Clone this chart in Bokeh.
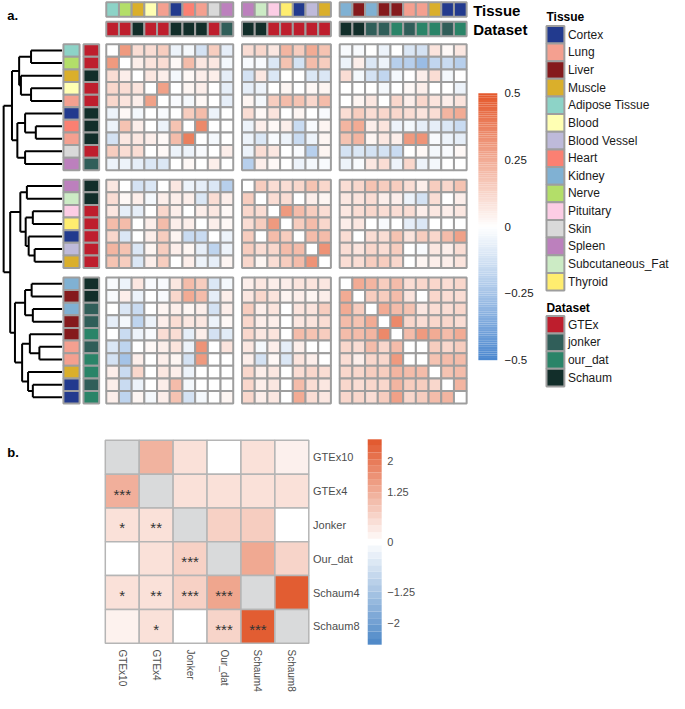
import numpy as np
from bokeh.plotting import figure
from bokeh.models import Range1d, ColumnDataSource
from bokeh.embed import file_html
from bokeh.resources import INLINE
from bokeh.core.properties import value

FONT = "Liberation Sans"

# ---------------- data ----------------
tissue_names = ["Cortex", "Lung", "Liver", "Muscle", "Adipose Tissue", "Blood", "Blood Vessel",
                "Heart", "Kidney", "Nerve", "Pituitary", "Skin", "Spleen", "Subcutaneous_Fat", "Thyroid"]
tissue_colors = ["#223A8E", "#F4A090", "#851A1C", "#DAAF2B", "#8DD3C7", "#FFFFB3", "#BEBADA",
                 "#FB8072", "#80B1D3", "#B3DE69", "#FCCDE5", "#D9D9D9", "#BC80BD", "#CCEBC5", "#FFED6F"]
dataset_names = ["GTEx", "jonker", "our_dat", "Schaum"]
dataset_colors = ["#BE1E2D", "#305E59", "#2A8468", "#122E2A"]

sample_tissue = ["Adipose Tissue", "Nerve", "Muscle", "Blood", "Lung", "Cortex", "Heart", "Lung", "Skin", "Spleen",
                 "Spleen", "Subcutaneous_Fat", "Pituitary", "Thyroid", "Cortex", "Blood Vessel", "Muscle",
                 "Kidney", "Liver", "Kidney", "Liver", "Liver", "Lung", "Lung", "Muscle", "Cortex", "Cortex"]
sample_dataset = ["GTEx", "GTEx", "Schaum", "GTEx", "GTEx", "Schaum", "Schaum", "Schaum", "GTEx", "jonker",
                  "Schaum", "Schaum", "GTEx", "GTEx", "GTEx", "GTEx", "GTEx",
                  "Schaum", "Schaum", "jonker", "jonker", "our_dat", "jonker", "our_dat", "our_dat", "jonker", "our_dat"]
block_sizes = [10, 7, 10]

corr = [
    [0.00, 0.30, 0.10, 0.10, 0.15, -0.05, -0.03, -0.12, 0.15, -0.07, 0.10, 0.12, 0.07, 0.22, 0.15, 0.25, 0.18, -0.02, -0.02, 0.00, -0.05, 0.00, -0.10, -0.12, 0.08, 0.02, 0.07],
    [0.30, 0.00, 0.05, 0.08, 0.10, 0.02, 0.20, 0.07, 0.07, -0.03, -0.02, -0.02, -0.10, 0.18, -0.12, 0.20, 0.15, -0.05, 0.05, -0.10, -0.05, -0.20, -0.20, -0.28, -0.17, -0.15, -0.20],
    [0.10, 0.05, 0.00, 0.07, 0.05, -0.03, 0.02, 0.05, 0.05, -0.07, -0.12, 0.07, -0.10, 0.00, 0.00, -0.10, -0.10, 0.10, -0.03, -0.12, -0.17, -0.03, 0.00, 0.05, 0.10, -0.03, 0.00],
    [0.12, 0.10, 0.08, 0.00, 0.28, 0.00, 0.03, 0.05, 0.00, -0.07, -0.07, -0.05, 0.00, 0.03, 0.00, 0.02, 0.03, 0.00, 0.00, 0.00, -0.03, 0.00, 0.02, 0.05, 0.00, 0.00, -0.05],
    [0.12, 0.08, 0.05, 0.28, 0.00, -0.02, -0.03, 0.02, 0.00, -0.07, 0.03, -0.03, 0.15, 0.20, 0.18, 0.12, 0.20, 0.00, 0.03, 0.07, 0.00, 0.12, 0.05, 0.12, 0.08, 0.05, 0.08],
    [-0.05, 0.02, -0.03, 0.00, -0.02, 0.00, 0.15, 0.20, -0.05, 0.00, 0.10, 0.02, 0.08, 0.00, 0.03, 0.00, -0.02, 0.10, 0.15, 0.10, 0.12, 0.12, 0.10, 0.08, 0.10, 0.22, 0.25],
    [-0.05, 0.18, 0.05, 0.00, -0.05, 0.18, 0.00, 0.35, 0.00, 0.00, -0.05, 0.05, 0.02, 0.05, -0.15, -0.02, 0.03, 0.22, 0.25, 0.05, 0.08, -0.05, -0.03, -0.07, -0.07, -0.10, -0.15],
    [-0.12, 0.07, 0.07, 0.05, 0.02, 0.20, 0.38, 0.00, -0.03, 0.00, -0.05, -0.10, -0.02, -0.05, -0.15, -0.05, 0.03, 0.18, 0.22, 0.03, 0.07, 0.05, 0.30, 0.32, -0.02, -0.05, -0.07],
    [0.15, 0.10, 0.10, 0.00, 0.02, -0.05, -0.05, -0.02, 0.00, 0.05, -0.05, 0.10, 0.07, 0.00, -0.02, -0.20, 0.03, -0.12, -0.10, -0.12, -0.12, -0.15, 0.00, 0.02, -0.03, -0.02, 0.02],
    [-0.05, -0.05, -0.07, -0.10, -0.10, 0.00, 0.02, 0.00, 0.05, 0.00, -0.20, 0.05, 0.02, 0.00, -0.05, -0.03, -0.02, -0.05, -0.02, 0.07, 0.10, -0.05, 0.12, -0.05, -0.03, 0.00, 0.00],
    [0.07, 0.00, -0.12, -0.10, 0.00, 0.07, -0.05, -0.07, -0.10, -0.20, 0.00, 0.15, 0.10, 0.10, 0.12, 0.18, 0.12, 0.10, 0.12, 0.18, 0.15, 0.15, 0.10, 0.05, 0.15, 0.12, 0.18],
    [0.10, 0.02, 0.05, -0.03, 0.05, 0.05, 0.05, -0.10, 0.10, 0.05, 0.15, 0.00, 0.10, 0.10, 0.00, 0.05, 0.03, 0.07, 0.08, 0.10, 0.05, 0.05, -0.05, -0.12, 0.10, 0.00, 0.05],
    [0.07, -0.07, -0.07, 0.00, 0.12, 0.05, 0.00, 0.05, 0.07, 0.02, 0.12, 0.10, 0.00, 0.30, 0.20, 0.15, 0.10, 0.07, 0.10, 0.12, 0.10, 0.10, 0.10, 0.05, 0.07, 0.05, 0.07],
    [0.20, 0.20, 0.00, 0.05, 0.20, 0.05, 0.05, 0.00, 0.05, 0.02, 0.10, 0.15, 0.30, 0.00, 0.15, 0.20, 0.12, 0.05, 0.07, 0.00, -0.02, 0.00, -0.07, -0.10, 0.00, 0.00, 0.00],
    [0.12, -0.10, 0.00, 0.05, 0.15, 0.03, -0.15, -0.15, 0.00, -0.05, 0.15, 0.00, 0.20, 0.15, 0.00, 0.20, 0.20, 0.10, 0.00, 0.10, 0.10, 0.18, 0.08, 0.15, 0.12, 0.20, 0.28],
    [0.22, 0.18, -0.10, 0.03, 0.15, 0.05, 0.03, -0.07, -0.18, -0.05, 0.15, 0.10, 0.12, 0.20, 0.20, 0.00, 0.32, 0.10, 0.08, 0.12, 0.10, 0.15, 0.00, -0.02, 0.07, 0.05, 0.10],
    [0.18, 0.15, -0.10, 0.05, 0.15, 0.00, 0.05, -0.05, -0.07, 0.03, 0.12, 0.03, 0.10, 0.15, 0.20, 0.32, 0.00, 0.10, 0.10, 0.15, 0.15, 0.12, 0.00, 0.03, 0.05, 0.05, 0.08],
    [-0.02, -0.05, 0.07, -0.02, -0.02, 0.07, 0.20, 0.15, -0.10, -0.03, 0.05, 0.07, 0.05, 0.05, 0.08, 0.08, 0.07, 0.00, 0.25, 0.22, 0.15, 0.20, 0.10, 0.12, 0.12, 0.10, 0.12],
    [-0.02, 0.05, -0.05, 0.00, -0.02, 0.12, 0.25, 0.20, -0.07, 0.05, 0.07, 0.12, 0.08, 0.03, 0.05, 0.03, 0.05, 0.25, 0.00, 0.15, 0.15, 0.20, 0.08, 0.00, 0.12, 0.10, 0.10],
    [0.00, -0.10, -0.15, 0.00, 0.03, 0.05, 0.03, 0.05, -0.12, 0.05, 0.15, 0.05, 0.08, 0.00, 0.08, 0.08, 0.15, 0.25, 0.15, 0.00, 0.25, 0.20, 0.18, 0.07, 0.10, 0.10, 0.12],
    [-0.07, -0.03, -0.18, -0.05, 0.05, 0.10, 0.07, 0.07, -0.05, 0.02, 0.12, 0.05, 0.05, 0.00, 0.07, 0.08, 0.10, 0.20, 0.18, 0.25, 0.00, 0.35, 0.12, 0.10, 0.12, 0.12, 0.10],
    [0.00, -0.15, -0.05, -0.02, 0.10, 0.10, -0.07, 0.05, -0.12, -0.08, 0.12, 0.07, 0.08, 0.00, 0.20, 0.18, 0.15, 0.20, 0.20, 0.22, 0.35, 0.00, 0.20, 0.30, 0.25, 0.20, 0.25],
    [-0.10, -0.18, 0.00, 0.02, 0.05, 0.08, -0.05, 0.32, 0.00, 0.08, 0.07, -0.03, 0.05, -0.07, 0.05, 0.00, 0.00, 0.12, 0.10, 0.20, 0.12, 0.20, 0.00, 0.00, 0.15, 0.12, 0.15],
    [-0.12, -0.25, 0.05, 0.00, 0.05, 0.03, -0.12, 0.30, 0.00, 0.00, 0.05, -0.12, 0.02, -0.10, 0.08, 0.05, 0.00, 0.10, 0.05, 0.12, 0.12, 0.30, 0.00, 0.00, 0.18, 0.20, 0.20],
    [0.05, -0.15, 0.12, 0.00, 0.07, 0.05, -0.05, 0.00, 0.00, 0.00, 0.12, 0.05, 0.07, 0.00, 0.10, 0.12, 0.10, 0.12, 0.12, 0.15, 0.15, 0.22, 0.20, 0.20, 0.00, 0.18, 0.20],
    [0.05, -0.15, -0.05, 0.00, 0.05, 0.20, -0.03, 0.00, 0.00, 0.00, 0.12, 0.05, 0.07, 0.00, 0.20, 0.10, 0.07, 0.12, 0.10, 0.12, 0.12, 0.22, 0.15, 0.15, 0.12, 0.00, 0.22],
    [0.05, -0.18, 0.03, -0.03, 0.05, 0.18, -0.12, -0.03, 0.00, 0.03, 0.12, 0.05, 0.07, 0.00, 0.25, 0.10, 0.07, 0.12, 0.12, 0.10, 0.15, 0.28, 0.12, 0.15, 0.20, 0.22, 0.00],
]

# hierarchical clustering merges (child a, child b, height 0..1); ids >= 27 are earlier merges
linkage = [
    (0, 1, 0.52), (3, 4, 0.52), (2, 28, 0.69), (27, 29, 0.72),
    (6, 7, 0.44), (5, 31, 0.62), (8, 9, 0.62), (32, 33, 0.75), (30, 34, 0.84),
    (10, 11, 0.59), (12, 13, 0.49), (15, 16, 0.46), (14, 38, 0.56), (37, 39, 0.61), (36, 40, 0.70),
    (17, 18, 0.51), (19, 20, 0.49), (42, 43, 0.62), (22, 23, 0.38), (21, 45, 0.54),
    (25, 26, 0.49), (24, 47, 0.57), (46, 48, 0.67), (44, 49, 0.79), (41, 50, 0.87), (35, 51, 0.98),
]

a_ticks = [0.5, 0.25, 0.0, -0.25, -0.5]
a_tick_labels = ["0.5", "0.25", "0", "\u22120.25", "\u22120.5"]

b_names = ["GTEx10", "GTEx4", "Jonker", "Our_dat", "Schaum4", "Schaum8"]
b_values = [
    [None, 1.15, 0.45, 0.00, 0.45, 0.22],
    [1.20, None, 0.45, 0.45, 0.45, 0.45],
    [0.45, 0.45, None, 0.70, 0.75, 0.00],
    [0.00, 0.45, 0.70, None, 1.30, 0.65],
    [0.45, 0.45, 0.70, 1.35, None, 2.45],
    [0.20, 0.45, 0.00, 0.65, 2.45, None],
]
b_stars = [
    ["", "", "", "", "", ""],
    ["***", "", "", "", "", ""],
    ["*", "**", "", "", "", ""],
    ["", "", "***", "", "", ""],
    ["*", "**", "***", "***", "", ""],
    ["", "*", "", "***", "***", ""],
]
b_ticks = [2.0, 1.25, 0.0, -1.25, -2.0]
b_tick_labels = ["2", "1.25", "0", "\u22121.25", "\u22122"]


# ---------------- helpers ----------------
def hex_rgb(h):
    return tuple(int(h[i:i + 2], 16) for i in (1, 3, 5))


def mix(c1, c2, t):
    a, b = hex_rgb(c1), hex_rgb(c2)
    return "#%02x%02x%02x" % tuple(int(round(a[k] + (b[k] - a[k]) * t)) for k in range(3))


def diverging(v, vmax, lo, hi):
    t = max(-1.0, min(1.0, v / vmax))
    return mix("#ffffff", hi, t) if t >= 0 else mix("#ffffff", lo, -t)


RED_A, BLUE_A = "#E4572A", "#4A87CF"
RED_B, BLUE_B = "#E1562A", "#4B86C6"
GRID = "#9E9E9E"
TXT = "#1A1A1A"
TXT_B = "#4D4D4D"

p = figure(width=669, height=693, x_range=Range1d(0, 685), y_range=Range1d(709, 0),
           output_backend="svg", toolbar_location=None,
           x_axis_location=None, y_axis_location=None, min_border=0)
p.grid.visible = False
p.outline_line_color = None

n = len(sample_tissue)
block_of = []
for b, s in enumerate(block_sizes):
    block_of += [b] * s

HX0, PX, GX = 108.3, 13.0, 9.0
HY0, PY, GY = 44.7, 12.9, 9.7
col_x = [HX0 + (i + 0.5) * PX + block_of[i] * GX for i in range(n)]
row_y = [HY0 + (j + 0.5) * PY + block_of[j] * GY for j in range(n)]

# heatmap a
hx, hy, hc = [], [], []
for j in range(n):
    for i in range(n):
        hx.append(col_x[i]); hy.append(row_y[j]); hc.append(diverging(corr[j][i], 0.5, BLUE_A, RED_A))
p.rect(x=hx, y=hy, width=PX, height=PY, fill_color=hc, line_color=GRID, line_width=2)

tcol = dict(zip(tissue_names, tissue_colors))
dcol = dict(zip(dataset_names, dataset_colors))

# column annotations
p.rect(x=col_x, y=9.2, width=PX, height=15, fill_color=[tcol[t] for t in sample_tissue], line_color=GRID, line_width=2)
p.rect(x=col_x, y=29.2, width=PX, height=15, fill_color=[dcol[d] for d in sample_dataset], line_color=GRID, line_width=2)
# row annotations
p.rect(x=72.7, y=row_y, width=16.5, height=PY, fill_color=[tcol[t] for t in sample_tissue], line_color=GRID, line_width=2)
p.rect(x=93.0, y=row_y, width=16.0, height=PY, fill_color=[dcol[d] for d in sample_dataset], line_color=GRID, line_width=2)

p.text(x=[484, 484], y=[10, 30], text=["Tissue", "Dataset"], text_font=value(FONT), text_font_size="15px",
       text_font_style="bold", text_align="left", text_baseline="middle", text_color="black")

# dendrogram
LEAF_X, ROOT_SPAN = 63.0, 61.0
node_x = {k: LEAF_X for k in range(n)}
node_y = {k: row_y[k] for k in range(n)}
sx0, sy0, sx1, sy1 = [], [], [], []
for m, (a, b, h) in enumerate(linkage):
    nid = n + m
    x = LEAF_X - ROOT_SPAN * h
    node_x[nid] = x
    node_y[nid] = (node_y[a] + node_y[b]) / 2
    sx0 += [x, x, x]; sy0 += [node_y[a], node_y[a], node_y[b]]
    sx1 += [x, node_x[a], node_x[b]]; sy1 += [node_y[b], node_y[a], node_y[b]]
p.segment(x0=sx0, y0=sy0, x1=sx1, y1=sy1, line_color="black", line_width=2)

# colorbar a
def ya(v):
    return 231.5 - v * 273.0

NB = 120
edges = np.linspace(-0.5, 0.5, NB + 1)
p.quad(left=489.3, right=508.7, bottom=[ya(e) for e in edges[:-1]], top=[ya(e) for e in edges[1:]],
       fill_color=[diverging((edges[k] + edges[k + 1]) / 2, 0.5, BLUE_A, RED_A) for k in range(NB)],
       line_color=None)
p.text(x=[516] * len(a_ticks), y=[ya(v) for v in a_ticks], text=a_tick_labels, text_font=value(FONT),
       text_font_size="11.5px", text_align="left", text_baseline="middle", text_color=TXT)

# legends
LEG_X, LEG_W, LEG_P = 568.2, 18.3, 18.05
ty = [35.0 + LEG_P * k for k in range(len(tissue_names))]
p.rect(x=LEG_X, y=ty, width=LEG_W, height=LEG_P, fill_color=tissue_colors, line_color=GRID, line_width=2)
p.text(x=[581] * len(ty), y=ty, text=tissue_names, text_font=value(FONT), text_font_size="12px",
       text_align="left", text_baseline="middle", text_color=TXT)
dy = [331.7 + LEG_P * k for k in range(len(dataset_names))]
p.rect(x=LEG_X, y=dy, width=LEG_W, height=LEG_P, fill_color=dataset_colors, line_color=GRID, line_width=2)
p.text(x=[581] * len(dy), y=dy, text=dataset_names, text_font=value(FONT), text_font_size="12px",
       text_align="left", text_baseline="middle", text_color=TXT)
p.text(x=[559, 559], y=[17.3, 314.3], text=["Tissue", "Dataset"], text_font=value(FONT), text_font_size="12px",
       text_font_style="bold", text_align="left", text_baseline="middle", text_color="black")

# panel labels
p.text(x=[7, 7], y=[15, 462], text=["a.", "b."], text_font=value(FONT), text_font_size="13px",
       text_font_style="bold", text_align="left", text_baseline="middle", text_color="black")

# ---------------- panel b ----------------
BX0, BPX, BY0, BPY = 107.3, 34.73, 450.0, 34.6
nb = len(b_names)
bx, by, bc, stx, sty, stt = [], [], [], [], [], []
for r in range(nb):
    for c in range(nb):
        x = BX0 + (c + 0.5) * BPX
        y = BY0 + (r + 0.5) * BPY
        v = b_values[r][c]
        bx.append(x); by.append(y)
        bc.append("#D9DADB" if v is None else diverging(v, 2.55, BLUE_B, RED_B))
        if b_stars[r][c]:
            stx.append(x); sty.append(y + 3.0); stt.append(b_stars[r][c])
p.rect(x=bx, y=by, width=BPX, height=BPY, fill_color=bc, line_color="#B5B5B5", line_width=1.5)
p.text(x=stx, y=sty, text=stt, text_font=value(FONT), text_font_size="15px", text_align="center",
       text_baseline="middle", text_color="#333333")

p.text(x=[320] * nb, y=[BY0 + (r + 0.5) * BPY for r in range(nb)], text=b_names, text_font=value(FONT),
       text_font_size="11px", text_align="left", text_baseline="middle", text_color=TXT_B)
p.text(x=[BX0 + (c + 0.5) * BPX for c in range(nb)], y=[664.0] * nb, text=b_names, text_font=value(FONT),
       text_font_size="10px", text_align="left", text_baseline="middle", text_color=TXT_B, angle=-np.pi / 2)

# colorbar b (stepped)
def yb(v):
    return 554.0 - v * 41.2

NBB = 31
eb = np.linspace(-2.55, 2.55, NBB + 1)
p.quad(left=376.0, right=390.3, bottom=[yb(e) for e in eb[:-1]], top=[yb(e) for e in eb[1:]],
       fill_color=[diverging((eb[k] + eb[k + 1]) / 2, 2.55, BLUE_B, RED_B) for k in range(NBB)],
       line_color=None)
p.text(x=[396] * len(b_ticks), y=[yb(v) for v in b_ticks], text=b_tick_labels, text_font=value(FONT),
       text_font_size="11px", text_align="left", text_baseline="middle", text_color=TXT_B)

open("out.html", "w").write(file_html(p, INLINE))
